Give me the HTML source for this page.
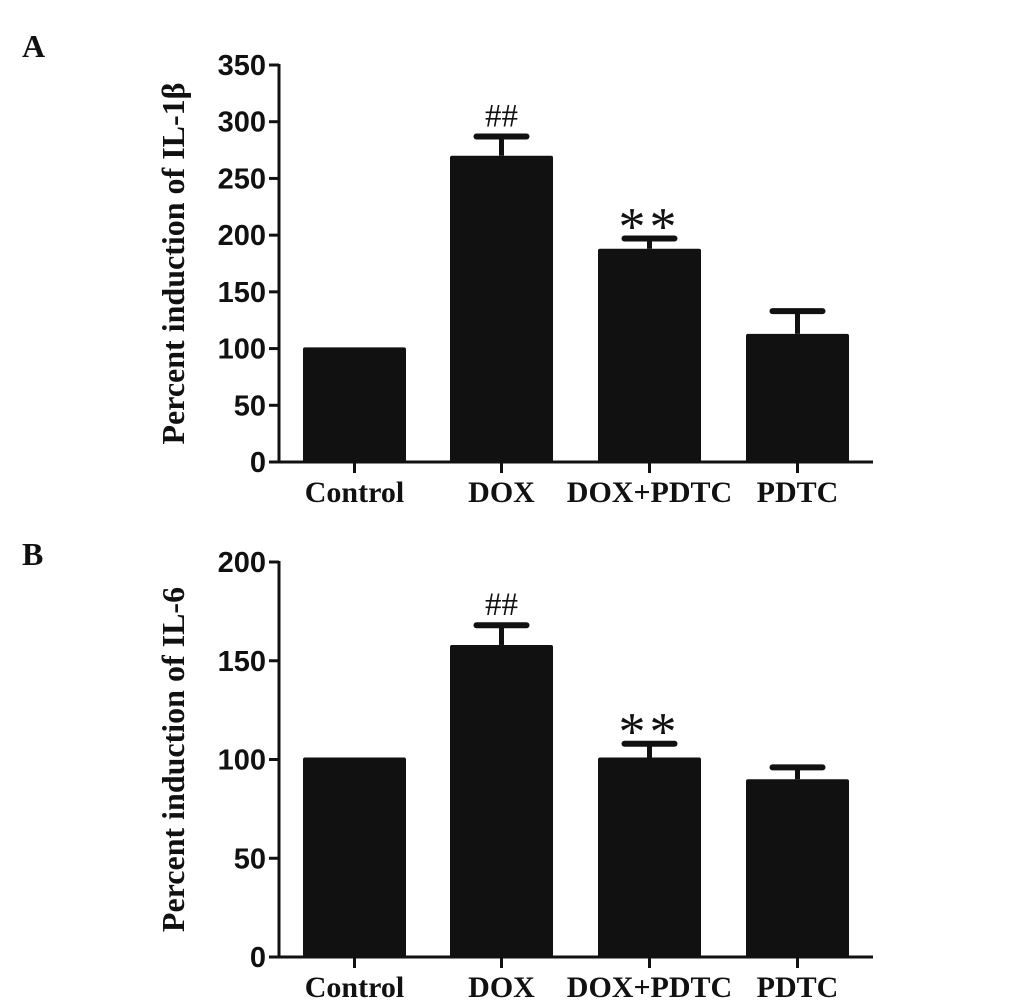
<!DOCTYPE html>
<html><head><meta charset="utf-8"><style>
html,body{margin:0;padding:0;background:#fff}
svg{display:block}
.tick{font-family:"Liberation Sans",Arial,sans-serif;font-weight:bold;font-size:29px;fill:#111}
.cat{font-family:"Liberation Serif",serif;font-weight:bold;font-size:30px;fill:#111}
.ttl{font-family:"Liberation Serif",serif;font-weight:bold;font-size:32px;fill:#111}
.pl{font-family:"Liberation Serif",serif;font-weight:bold;font-size:32px;fill:#111}
.sig{font-family:"Liberation Serif",serif;fill:#111}
</style></head><body>
<svg id="chart" width="1033" height="1006" viewBox="0 0 1033 1006"></svg>
<script>
const categories=["Control","DOX","DOX+PDTC","PDTC"];
const valuesA=[101,270,188,113];
const errorsA=[0,17,9,20];
const sigA=["","##","**",""];
const ticksA=[0,50,100,150,200,250,300,350];
const valuesB=[101,158,101,90];
const errorsB=[0,10,7,6];
const sigB=["","##","**",""];
const ticksB=[0,50,100,150,200];

const NS="http://www.w3.org/2000/svg";
const svg=document.getElementById('chart');
function mk(tag,attrs,parent,text){const e=document.createElementNS(NS,tag);for(const k in attrs)e.setAttribute(k,attrs[k]);if(text!==undefined)e.textContent=text;parent.appendChild(e);return e;}

function panel(p){
  const g=mk('g',{},svg);
  
  
  const y=v=>p.y0-(v/p.max)*(p.y0-p.yTop);
  const bw=103, starts=[303,450,598,746];
  const x=i=>starts[i];
  const pl=mk('text',{x:22,y:p.labelY,class:'pl'},g,p.letter);
  
  
  const cy=(p.y0+p.yTop)/2;
  const t=mk('text',{x:0,y:0,class:'ttl','text-anchor':'middle',transform:`translate(${p.titleX},${cy}) rotate(-90)`},g,p.title);
  
  
  categories.forEach((c,i)=>{
    const v=p.values[i],e=p.errors[i],cx=x(i)+bw/2;
    if(e>0){
      const eb=mk('line',{x1:cx,x2:cx,y1:y(v),y2:y(v+e),stroke:'#111','stroke-width':5},g);
      
      
      const cap=mk('line',{x1:cx-25,x2:cx+25,y1:y(v+e),y2:y(v+e),stroke:'#111','stroke-width':6,'stroke-linecap':'round'},g);
      
      
    }
    const r=mk('rect',{x:x(i),y:y(v),width:bw,height:p.y0-y(v),fill:'#111',rx:2},g);
    
    
    if(p.sig[i]){
      const star=p.sig[i]=='**';
      const s=mk('text',{x:cx,y:y(v+e)+(star?6:-10),class:'sig','text-anchor':'middle','font-size':star?54:33,'letter-spacing':star?'4':'0'},g,p.sig[i]);
      
      
    }
    const tk=mk('line',{x1:cx,x2:cx,y1:p.y0,y2:p.y0+11,stroke:'#111','stroke-width':3},g);
    
    
    const lb=mk('text',{x:cx,y:p.y0+40,class:'cat','text-anchor':'middle'},g,c);
    
    
  });
  const ya=mk('line',{x1:p.axisX,x2:p.axisX,y1:p.yTop-1,y2:p.y0+1.5,stroke:'#111','stroke-width':3},g);
  
  
  const xa=mk('line',{x1:p.axisX-10,x2:873,y1:p.y0,y2:p.y0,stroke:'#111','stroke-width':3},g);
  
  
  p.ticks.forEach(tv=>{
    const l=mk('line',{x1:p.axisX-10,x2:p.axisX,y1:y(tv),y2:y(tv),stroke:'#111','stroke-width':3},g);
    
    
    const tl=mk('text',{x:p.axisX-13,y:y(tv)+10,class:'tick','text-anchor':'end'},g,tv);
    
    
  });
}
panel({id:'a',letter:'A',labelY:57,title:'Percent induction of IL-1β',titleX:184,axisX:279,y0:462,yTop:65,max:350,values:valuesA,errors:errorsA,sig:sigA,ticks:ticksA});
panel({id:'b',letter:'B',labelY:565,title:'Percent induction of IL-6',titleX:184,axisX:279,y0:957,yTop:562,max:200,values:valuesB,errors:errorsB,sig:sigB,ticks:ticksB});
</script>
</body></html>
